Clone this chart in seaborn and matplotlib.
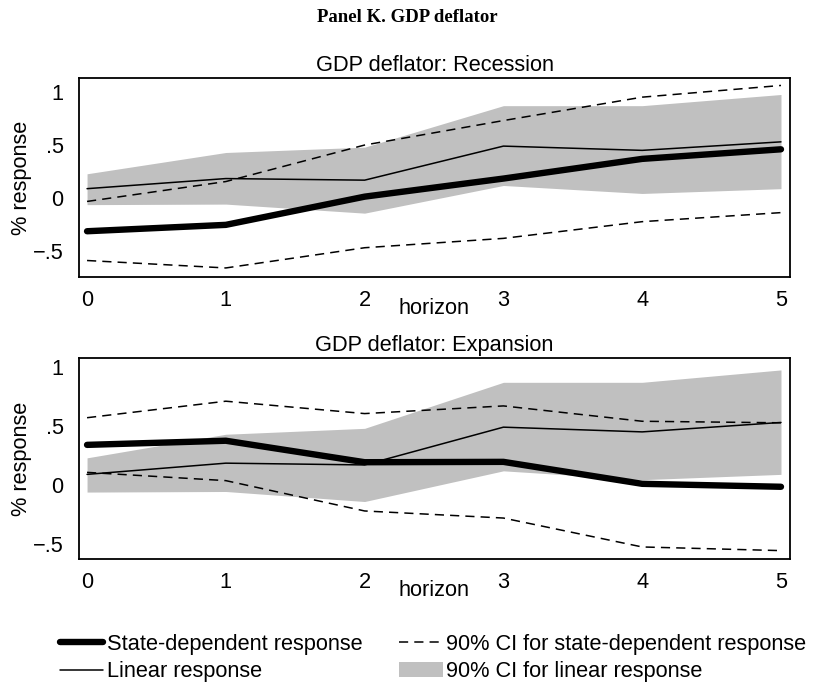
import matplotlib
matplotlib.use("Agg")
import matplotlib.pyplot as plt
from matplotlib.lines import Line2D
from matplotlib.patches import Patch
import pandas as pd
import seaborn as sns

# Impulse responses of the GDP deflator, horizons 0-5
horizon = [0, 1, 2, 3, 4, 5]

linear = [0.09, 0.185, 0.17, 0.49, 0.45, 0.53]
linear_lo = [-0.06, -0.055, -0.14, 0.12, 0.045, 0.09]
linear_hi = [0.23, 0.43, 0.48, 0.87, 0.87, 0.975]

rec_state = [-0.31, -0.25, 0.015, 0.185, 0.37, 0.46]
rec_lo = [-0.585, -0.655, -0.465, -0.377, -0.22, -0.135]
rec_hi = [-0.03, 0.157, 0.50, 0.73, 0.95, 1.06]

exp_state = [0.34, 0.375, 0.193, 0.196, 0.01, -0.015]
exp_lo = [0.107, 0.037, -0.22, -0.28, -0.525, -0.556]
exp_hi = [0.57, 0.71, 0.605, 0.67, 0.54, 0.527]

yticks = [-0.5, 0, 0.5, 1]
ytick_labels = ["\u2212.5", "0", ".5", "1"]

panels = [
    ("GDP deflator: Recession", rec_state, rec_lo, rec_hi, (-0.74, 1.13)),
    ("GDP deflator: Expansion", exp_state, exp_lo, exp_hi, (-0.627, 1.076)),
]

sns.set_theme(style="white")
plt.rcParams["font.family"] = ["Liberation Sans", "DejaVu Sans"]
plt.rcParams.update({
    "text.color": "black",
    "axes.labelcolor": "black",
    "xtick.color": "black",
    "ytick.color": "black",
})

FS = 15.7
W, H = 814, 682
fig = plt.figure(figsize=(W / 100, H / 100), dpi=100)
fig.patch.set_facecolor("white")

band_color = "#c0c0c0"
dash = (0, (6, 4))
axes_boxes = [(79, 78, 790, 277), (79, 358, 790, 559)]

for (title, state, lo, hi, ylim), (x0, y0, x1, y1) in zip(panels, axes_boxes):
    ax = fig.add_axes([x0 / W, 1 - y1 / H, (x1 - x0) / W, (y1 - y0) / H])
    ax.set_facecolor("white")
    df = pd.DataFrame({
        "horizon": horizon * 4,
        "value": state + lo + hi + linear,
        "series": (["state"] * 6 + ["lo"] * 6 + ["hi"] * 6 + ["linear"] * 6),
    })
    ax.fill_between(horizon, linear_lo, linear_hi, color=band_color, lw=0, zorder=1)
    sns.lineplot(data=df[df.series == "linear"], x="horizon", y="value",
                 color="black", lw=1.1, ax=ax, zorder=3)
    for s in ["lo", "hi"]:
        sns.lineplot(data=df[df.series == s], x="horizon", y="value",
                     color="black", lw=1.1, ax=ax, zorder=3, linestyle=dash)
    sns.lineplot(data=df[df.series == "state"], x="horizon", y="value",
                 color="black", lw=4.6, ax=ax, zorder=4,
                 solid_capstyle="round")
    ax.set_xlim(-0.058, 5.065)
    ax.set_ylim(*ylim)
    ax.set_xticks(horizon)
    ax.set_xticklabels([str(h) for h in horizon], fontsize=FS)
    ax.set_yticks(yticks)
    ax.set_yticklabels(ytick_labels, fontsize=FS)
    ax.tick_params(axis="x", length=0, pad=9)
    ax.tick_params(axis="y", length=0, pad=11)
    ax.set_xlabel("horizon", fontsize=FS, labelpad=-9)
    ax.set_ylabel("% response", fontsize=FS, labelpad=1)
    ax.set_title(title, fontsize=FS, pad=5)
    for sp in ax.spines.values():
        sp.set_visible(True)
        sp.set_color("black")
        sp.set_linewidth(1.3)

fig.text(0.5, 1 - 18 / H, "Panel K. GDP deflator", ha="center", va="center",
         fontsize=13.5, fontweight="bold", family=["Liberation Serif", "DejaVu Serif"])

handles = [
    Line2D([], [], color="black", lw=4.6, solid_capstyle="round"),
    Line2D([], [], color="black", lw=1.1),
    Line2D([], [], color="black", lw=1.1, linestyle=dash),
    Patch(facecolor=band_color, edgecolor="none"),
]
labels = [
    "State-dependent response",
    "Linear response",
    "90% CI for state-dependent response",
    "90% CI for linear response",
]
fig.legend(handles, labels, ncol=2, loc="center", bbox_to_anchor=(433 / W, 1 - 658 / H),
           frameon=False, fontsize=FS, handlelength=2.0, handletextpad=0.15,
           columnspacing=1.7, labelspacing=0.3, borderaxespad=0)

fig.savefig("out.png", dpi=100, facecolor="white")
